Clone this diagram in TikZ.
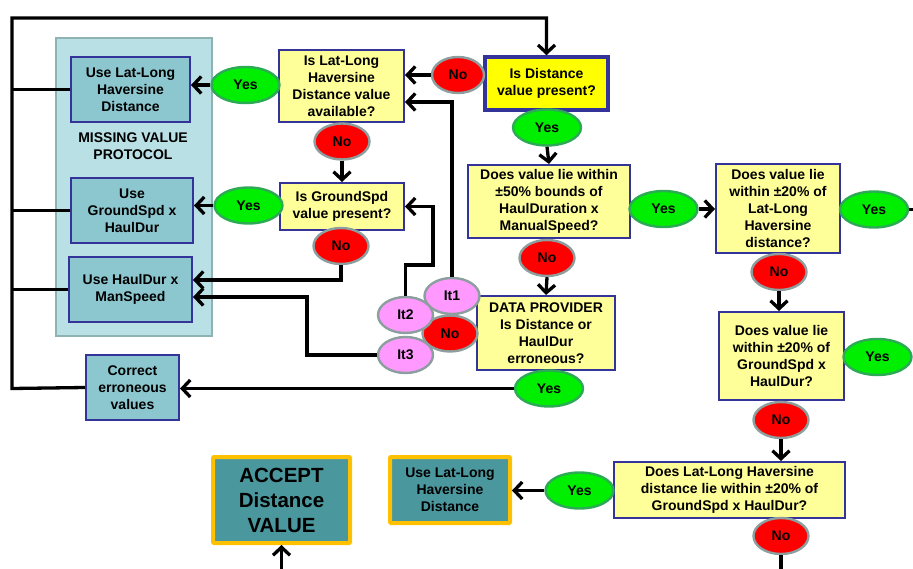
\documentclass[tikz,border=0pt]{standalone}
\usepackage{fontspec}
\setmainfont{Liberation Sans}
\usetikzlibrary{arrows.meta,shapes.geometric}

\definecolor{boxblue}{HTML}{333399}
\definecolor{paleyellow}{HTML}{FFFF99}
\definecolor{brightyellow}{HTML}{FFFF00}
\definecolor{usefill}{HTML}{8CC7CF}
\definecolor{panelfill}{HTML}{B9E0E4}
\definecolor{panelline}{HTML}{8FB2B2}
\definecolor{finfill}{HTML}{4A979E}
\definecolor{finorange}{HTML}{FFC000}
\definecolor{yesfill}{HTML}{00EE00}
\definecolor{yesline}{HTML}{2DAA55}
\definecolor{nofill}{HTML}{FF0000}
\definecolor{ovalgray}{HTML}{8C9E9E}
\definecolor{itfill}{HTML}{FF99FF}

\begin{document}
\begin{tikzpicture}[x=1pt,y=-1pt,
  every node/.style={font=\bfseries\fontsize{14}{17}\selectfont, align=center, inner sep=0pt},
  conn/.style={line width=3.3pt, black},
  arr/.style={conn, -{Straight Barb[length=8pt,width=17pt]}},
  qbox/.style={rectangle, draw=boxblue, line width=2pt, fill=paleyellow},
  usebox/.style={rectangle, draw=boxblue, line width=2pt, fill=usefill},
  finbox/.style={rectangle, draw=finorange, line width=4pt, fill=finfill, rounded corners=1pt},
  panelbox/.style={rectangle, draw=panelline, line width=2pt, fill=panelfill},
  oval/.style={ellipse, line width=2.4pt, minimum width=55pt, minimum height=36pt},
  yesoval/.style={oval, fill=yesfill, draw=yesline, minimum width=68pt},
  nooval/.style={oval, fill=nofill, draw=ovalgray},
  itoval/.style={oval, fill=itfill, draw=ovalgray}
]
\useasboundingbox (0,0) rectangle (913,569);

% missing value protocol panel
\node[panelbox, minimum width=156pt, minimum height=298pt] (panel) at (134,187) {};
\node[usebox, minimum width=119pt, minimum height=65pt] (uselat) at (130.5,89.5) {Use Lat-Long\\Haversine\\Distance};
\node (mvp) at (133,146) {MISSING VALUE\\PROTOCOL};
\node[usebox, minimum width=122pt, minimum height=65pt] (usegs) at (132,210.5) {Use\\GroundSpd x\\HaulDur};
\node[usebox, minimum width=123pt, minimum height=65pt] (usehd) at (130.5,289.5) {Use HaulDur x\\ManSpeed};
\node[usebox, minimum width=93pt, minimum height=65pt] (correct) at (132.5,387.5) {Correct\\erroneous\\values};

% decision boxes
\node[qbox, minimum width=125pt, minimum height=72pt] (latq) at (341.5,86) {Is Lat-Long\\Haversine\\Distance value\\available?};
\node[qbox, fill=brightyellow, line width=3.5pt, minimum width=123pt, minimum height=53pt] (distq) at (546.5,83.5) {Is Distance\\value present?};
\node[qbox, minimum width=124pt, minimum height=47pt] (gsq) at (342,206.5) {Is GroundSpd\\value present?};
\node[qbox, minimum width=162pt, minimum height=73pt] (q50) at (549,201.5) {Does value lie within\\±50\% bounds of\\HaulDuration x\\ManualSpeed?};
\node[qbox, minimum width=138pt, minimum height=74pt] (dp) at (546,333) {DATA PROVIDER\\Is Distance or\\HaulDur\\erroneous?};
\node[qbox, minimum width=124pt, minimum height=89pt] (q20a) at (778,208.5) {Does value lie\\within ±20\% of\\Lat-Long\\Haversine\\distance?};
\node[qbox, minimum width=125pt, minimum height=88pt] (q20b) at (781.5,356) {Does value lie\\within ±20\% of\\GroundSpd x\\HaulDur?};
\node[qbox, minimum width=231pt, minimum height=56pt] (q20c) at (729.5,490) {Does Lat-Long Haversine\\distance lie within ±20\% of\\GroundSpd x HaulDur?};

% outcome boxes
\node[finbox, minimum width=120pt, minimum height=66pt] (uselat2) at (450,490) {Use Lat-Long\\Haversine\\Distance};
\node[finbox, font=\bfseries\fontsize{20.5}{25}\selectfont, minimum width=137pt, minimum height=86pt] (accept) at (281.5,500) {ACCEPT\\Distance\\VALUE};

% answer ovals
\node[yesoval] (yes1) at (245.5,85) {Yes};
\node[nooval, minimum width=52pt] (no1) at (458,75) {No};
\node[nooval] (no2) at (342,141.5) {No};
\node[yesoval] (yes2) at (248.5,205.5) {Yes};
\node[nooval] (no3) at (341,246) {No};
\node[nooval] (noit) at (450,333.5) {No};
\node[itoval] (it1) at (452,296) {It1};
\node[itoval] (it2) at (405.5,315) {It2};
\node[itoval] (it3) at (405.5,355) {It3};
\node[yesoval] (yes3) at (547,127.5) {Yes};
\node[yesoval] (yes4) at (663.5,209) {Yes};
\node[nooval] (no4) at (547,258) {No};
\node[yesoval] (yes5) at (549,388.5) {Yes};
\node[nooval] (no5) at (779,272) {No};
\node[yesoval] (yes6) at (874,209.5) {Yes};
\node[yesoval] (yes7) at (877.5,357) {Yes};
\node[nooval] (no6) at (781,420) {No};
\node[yesoval] (yes8) at (579.5,490.5) {Yes};
\node[nooval] (no7) at (781,536) {No};

% loop-back corners and off-page ends
\coordinate (loopbl) at (12,388.5);
\coordinate (looptl) at (12,18);
\coordinate (looptr) at (546.5,18);
\coordinate (it2up) at (405.5,265);
\coordinate (it2rt) at (433,265);
\coordinate (it3lf) at (307,355);
\coordinate (exitA) at (913,209.5);
\coordinate (exitB) at (913,357);
\coordinate (exitC) at (781,569);
\coordinate (entry) at (281.5,569);

% return loop from the protocol boxes
\draw[arr] (correct.west) -- (loopbl) -- (looptl) -- (looptr) -- (distq.north);
\draw[conn] (uselat.west) -- (uselat.west -| loopbl);
\draw[conn] (usegs.west) -- (usegs.west -| loopbl);
\draw[conn] (usehd.west) -- (usehd.west -| loopbl);

% connectors
\draw[arr] (no1.west) -- (no1.west -| latq.east);
\draw[arr] (yes1.west) -- (yes1.west -| uselat.east);
\draw[arr] (no2.south) -- (gsq.north);
\draw[arr] (yes2.west) -- (yes2.west -| usegs.east);
\draw[arr] (no3.south) |- ([yshift=9.5pt]usehd.east);
\draw[arr] (it1.north) |- ([yshift=-16pt]latq.east);
\draw[arr] (it2.north) -- (it2up) -- (it2rt) |- (gsq.east);
\draw[arr] (it3.west) -- (it3lf) |- ([yshift=-7.5pt]usehd.east);
\draw[arr] (yes3.south) -- (q50.north);
\draw[arr] (yes4.east) -- (yes4.east -| q20a.west);
\draw[arr] (no4.south) -- (dp.north);
\draw[arr] (yes5.west) -- (yes5.west -| correct.east);
\draw[arr] (no5.south) -- (no5.south |- q20b.north);
\draw[conn] (yes6.east) -- (exitA);
\draw[conn] (yes7.east) -- (exitB);
\draw[arr] (no6.south) -- (no6.south |- q20c.north);
\draw[arr] (yes8.west) -- (yes8.west -| uselat2.east);
\draw[conn] (no7.south) -- (exitC);
\draw[arr] (entry) -- (accept.south);
\end{tikzpicture}
\end{document}
